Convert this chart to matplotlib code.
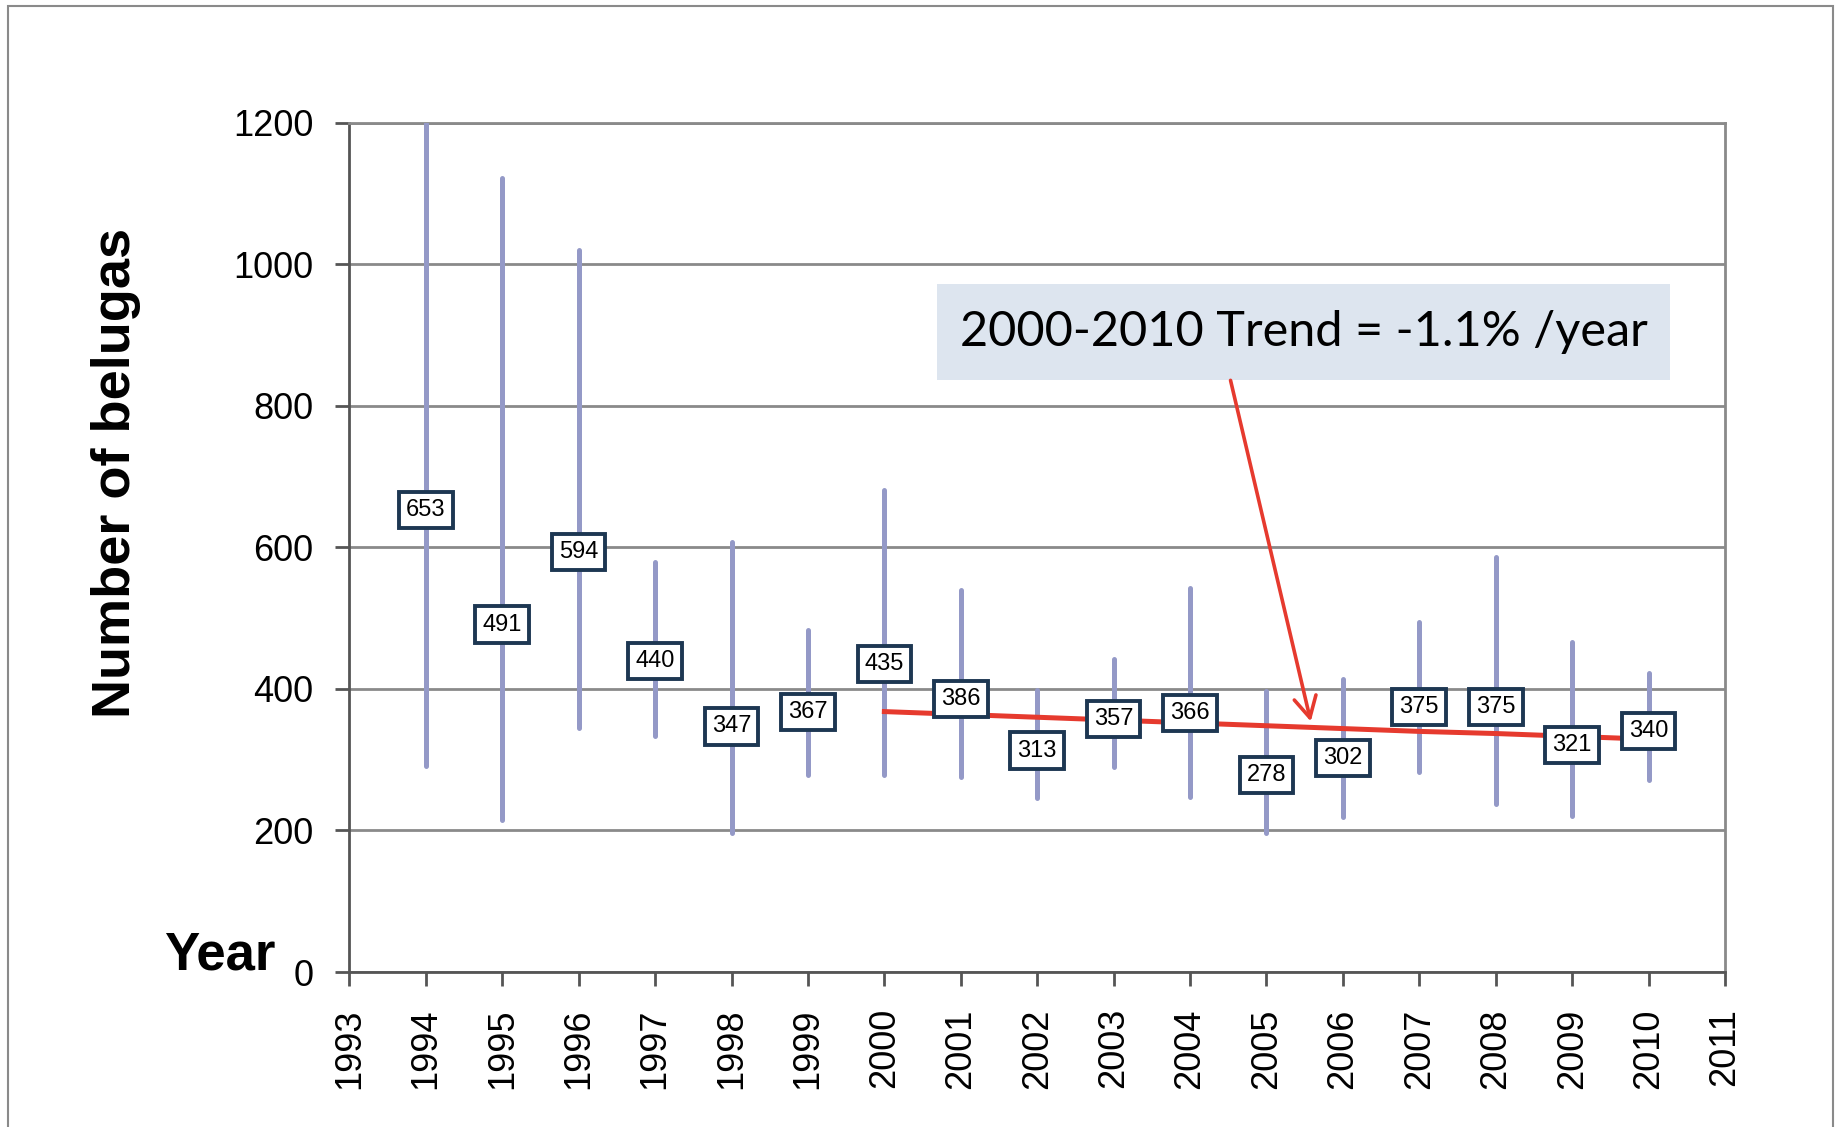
import matplotlib.pyplot as plt
from matplotlib.patches import Rectangle
import numpy as np

# beluga counts with 95% intervals
years = list(range(1994, 2011))
estimates = [653, 491, 594, 440, 347, 367, 435, 386, 313, 357, 366, 278, 302, 375, 375, 321, 340]
lower = [291, 215, 345, 334, 197, 279, 278, 276, 246, 289, 248, 196, 219, 283, 238, 220, 272]
upper = [1200, 1122, 1020, 580, 608, 483, 681, 540, 399, 442, 542, 397, 414, 494, 587, 467, 423]

trend_years = list(range(2000, 2011))
trend_vals = [368, 364, 360, 356, 352, 348, 344, 340, 337, 333, 329]

trend_text = "2000-2010 Trend = -1.1% /year"
# annotation box (data coords): x0, x1, y0, y1 and arrow tip / tail
box_x0, box_x1, box_y0, box_y1 = 2000.69, 2010.28, 836, 972
arrow_tail = (2004.53, 836)
arrow_tip = (2005.58, 354)

bar_color = "#9499c7"
red = "#e63a2e"
box_edge = "#1d3752"

plt.rcParams['font.family'] = ['Liberation Sans', 'DejaVu Sans']

fig = plt.figure(figsize=(18.39, 11.27), dpi=100)
ax = fig.add_axes([0.190, 0.1375, 0.748, 0.7536])

ax.vlines(years, lower, upper, colors=bar_color, linewidth=3.6, capstyle='round', zorder=3)
ax.plot(trend_years, trend_vals, color=red, linewidth=3.6, zorder=4)

for yr, est in zip(years, estimates):
    ax.text(yr, est, str(est), ha='center', va='center', fontsize=17,
            zorder=6, bbox=dict(boxstyle='square,pad=0.3', fc='white', ec=box_edge, lw=2.8))

ax.add_patch(Rectangle((box_x0, box_y0), box_x1 - box_x0, box_y1 - box_y0,
                       fc='#dde5ef', ec='none', zorder=5))
ax.text((box_x0 + box_x1) / 2, (box_y0 + box_y1) / 2, trend_text, ha='center', va='center',
        fontsize=35, family=['Lato', 'DejaVu Sans'], zorder=6)
ax.annotate('', xy=arrow_tip, xytext=arrow_tail, zorder=6,
            arrowprops=dict(arrowstyle='->,head_length=1.5,head_width=0.8', color=red, lw=2.6,
                            shrinkA=0, shrinkB=0))

ax.set_xlim(1993, 2011)
ax.set_ylim(0, 1200)
ax.set_xticks(range(1993, 2012))
ax.set_xticklabels([str(y) for y in range(1993, 2012)], rotation=90)
ax.set_yticks(range(0, 1201, 200))
ax.tick_params(axis='both', labelsize=26, length=10, width=2, color='#555555', pad=16, direction='out')

ax.yaxis.grid(True, color='#8a8a8a', linewidth=2)
ax.set_axisbelow(True)
for side in ['left', 'bottom']:
    ax.spines[side].set_color('#555555')
    ax.spines[side].set_linewidth(2)
for side in ['top', 'right']:
    ax.spines[side].set_color('#8a8a8a')
    ax.spines[side].set_linewidth(2)

fig.text(0.063, 0.580, "Number of belugas", rotation=90, ha='center', va='center',
         fontsize=39, fontweight='bold')
fig.text(0.150, 0.140, "Year", ha='right', va='baseline', fontsize=38, fontweight='bold')

fig.add_artist(Rectangle((8.3 / 1839, -0.05), (1833 - 8.3) / 1839, 1.05 - 5.7 / 1127,
                         transform=fig.transFigure, fill=False, ec='#8a8a8a', lw=1.5))

plt.savefig('out.png', dpi=100)
